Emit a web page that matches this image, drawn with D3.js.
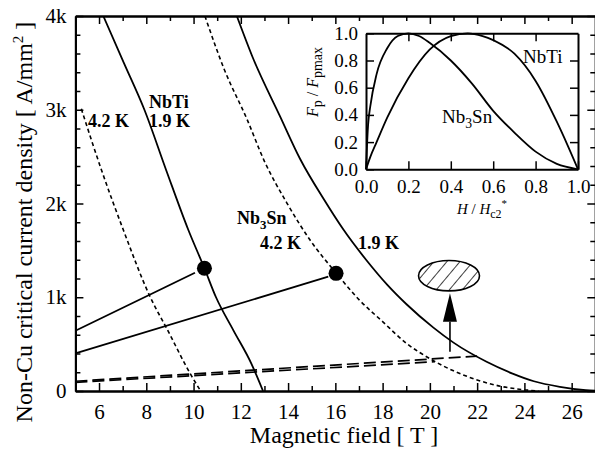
<!DOCTYPE html>
<html>
<head>
<meta charset="utf-8">
<script src="https://cdn.jsdelivr.net/npm/d3@7"></script>
<style>
  body { margin: 0; background: #fff; }
</style>
</head>
<body>
<svg id="chart" width="595" height="456"></svg>
<script>
// ---- data (field in T, Jc in A/mm2) ----
const nbti19B = [6.18, 7.05, 7.92, 8.85, 9.78, 10.46, 10.95, 11.68, 12.45, 12.94];
const nbti19J = [4000, 3500, 3000, 2350, 1717, 1309, 1000, 650, 290, 0];

const nbti42B = [5.25, 6.1, 7.03, 8.16, 8.9, 9.85, 10.3];
const nbti42J = [3010, 2360, 1717, 1006, 650, 189, 0];

const nb3sn42B = [10.48, 11.3, 12.26, 13.0, 13.95, 14.93, 16.06, 17.0, 18.0, 19.0, 20.0, 21.0, 22.0, 23.0, 24.0, 24.6];
const nb3sn42J = [4000, 3430, 2900, 2450, 2005, 1610, 1250, 975, 740, 510, 345, 215, 118, 50, 13, 0];

const nb3sn19B = [11.83, 12.5, 13.66, 14.51, 15.5, 16.34, 17.3, 18.2, 19.0, 20.15, 21.0, 22.4, 23.5, 24.4, 25.5, 26.6, 27.0];
const nb3sn19J = [4000, 3560, 2930, 2475, 2050, 1722, 1400, 1132, 928, 676, 516, 312, 186, 104, 45, 9, 3];

// load lines ending just before the operating points
const load1B = [5, 10.06], load1J = [643, 1262];
const load2B = [5, 15.70], load2J = [402, 1219];
const pointB = [10.46, 16.03], pointJ = [1309, 1255];

// long dashed lines
const dash1B = [5, 22.0], dash1J = [104, 372];
const dash2B = [5, 20.2], dash2J = [92, 312];

// arrow (tail, head base, tip) and hatched target ellipse
const arrowB = 20.85, arrowJ = [419, 739, 1042];
const ellipseB = 20.81, ellipseJ = 1230, ellipseRB = 1.29, ellipseRJ = 162;

// inset: normalised pinning force
const insetNbTiH = [0, 0.02, 0.05, 0.1, 0.2, 0.3, 0.4, 0.48, 0.55, 0.6, 0.7, 0.8, 0.9, 0.95, 1.0];
const insetNbTiF = [0, 0.09, 0.2, 0.38, 0.67, 0.88, 0.98, 1.0, 0.98, 0.95, 0.85, 0.65, 0.35, 0.18, 0];
const insetNb3SnH = [0, 0.01, 0.02, 0.05, 0.1, 0.15, 0.2, 0.25, 0.3, 0.4, 0.5, 0.6, 0.7, 0.8, 0.9, 1.0];
const insetNb3SnF = [0, 0.33, 0.46, 0.70, 0.89, 0.98, 1.0, 0.98, 0.93, 0.80, 0.63, 0.43, 0.27, 0.13, 0.04, 0];

const xMajor = [6, 8, 10, 12, 14, 16, 18, 20, 22, 24, 26];
const xMinor = [7, 9, 11, 13, 15, 17, 19, 21, 23, 25];
const yMajor = [0, 1000, 2000, 3000, 4000];
const yLabels = ['0', '1k', '2k', '3k', '4k'];
const yMinor = d3.range(200, 4000, 200).filter(v => v % 1000 != 0);
const insetTicks = [0, 0.2, 0.4, 0.6, 0.8, 1.0];
const insetInner = [0.2, 0.4, 0.6, 0.8];

const FONT = 'Liberation Serif';

// ---- setup ----
const svg = d3.select('#chart');
const x = d3.scaleLinear().domain([5, 27]).range([75.4, 595.3]);
const y = d3.scaleLinear().domain([0, 4000]).range([391, 16]);

const defs = svg.append('defs');
defs.append('clipPath').attr('id', 'plot')
  .append('rect')
  .attr('x', x(5)).attr('y', y(4000))
  .attr('width', x(27) - x(5)).attr('height', y(0) - y(4000));

defs.append('pattern')
  .attr('id', 'hatch')
  .attr('patternUnits', 'userSpaceOnUse')
  .attr('width', 10).attr('height', 10)
  .attr('patternTransform', 'rotate(40)')
  .append('line')
  .attr('x1', 0).attr('y1', 0).attr('x2', 0).attr('y2', 10)
  .attr('stroke', '#000').attr('stroke-width', 1.5);

const plot = svg.append('g').attr('clip-path', 'url(#plot)');

const line = d3.line().x(d => x(d[0])).y(d => y(d[1])).curve(d3.curveMonotoneX);
const straight = d3.line().x(d => x(d[0])).y(d => y(d[1]));

function curve(B, J, dash, width, gen) {
  plot.append('path')
    .datum(d3.zip(B, J))
    .attr('d', gen || line)
    .attr('fill', 'none')
    .attr('stroke', '#000')
    .attr('stroke-width', width)
    .attr('stroke-dasharray', dash);
}

curve(nbti19B, nbti19J, null, 1.8);
curve(nbti42B, nbti42J, '4,3', 1.6);
curve(nb3sn19B, nb3sn19J, null, 1.8);
curve(nb3sn42B, nb3sn42J, '4,3', 1.6);
curve(load1B, load1J, null, 1.8, straight);
curve(load2B, load2J, null, 1.8, straight);
curve(dash1B, dash1J, '12,5', 1.7, straight);
curve(dash2B, dash2J, '12,5', 1.7, straight);

// operating points
plot.selectAll('.pt')
  .data(d3.zip(pointB, pointJ))
  .enter()
  .append('circle')
  .attr('cx', d => x(d[0]))
  .attr('cy', d => y(d[1]))
  .attr('r', 7.5)
  .attr('fill', '#000');

// hatched ellipse
plot.append('ellipse')
  .attr('cx', x(ellipseB)).attr('cy', y(ellipseJ))
  .attr('rx', x(ellipseB + ellipseRB) - x(ellipseB))
  .attr('ry', y(ellipseJ - ellipseRJ) - y(ellipseJ))
  .attr('fill', 'url(#hatch)')
  .attr('stroke', '#000').attr('stroke-width', 1.6);

// arrow
plot.append('line')
  .attr('x1', x(arrowB)).attr('x2', x(arrowB))
  .attr('y1', y(arrowJ[0])).attr('y2', y(arrowJ[1]))
  .attr('stroke', '#000').attr('stroke-width', 1.6);
plot.append('path')
  .attr('d', `M${x(arrowB) - 7},${y(arrowJ[1])}L${x(arrowB) + 7},${y(arrowJ[1])}L${x(arrowB)},${y(arrowJ[2])}Z`)
  .attr('fill', '#000');

// ---- axes ----
function styleAxis(g, size) {
  g.attr('font-family', null).attr('font-size', null);
  g.select('.domain').attr('stroke-width', 2);
  g.selectAll('.tick line').attr('stroke-width', 1.5);
  g.selectAll('text').style('font-family', FONT).style('font-size', size + 'px');
}

svg.append('g').attr('transform', `translate(0,${y(0)})`)
  .call(d3.axisBottom(x).tickValues(xMajor).tickSize(-8).tickSizeOuter(0).tickPadding(13))
  .call(g => styleAxis(g, 21));
svg.append('g').attr('transform', `translate(0,${y(0)})`)
  .call(d3.axisBottom(x).tickValues(xMinor).tickSize(-5).tickSizeOuter(0).tickFormat(''))
  .call(g => styleAxis(g, 21));
svg.append('g').attr('transform', `translate(0,${y(4000)})`)
  .call(d3.axisTop(x).tickValues(xMajor).tickSize(-8).tickSizeOuter(0).tickFormat(''))
  .call(g => styleAxis(g, 21));
svg.append('g').attr('transform', `translate(0,${y(4000)})`)
  .call(d3.axisTop(x).tickValues(xMinor).tickSize(-5).tickSizeOuter(0).tickFormat(''))
  .call(g => styleAxis(g, 21));

svg.append('g').attr('transform', `translate(${x(5)},0)`)
  .call(d3.axisLeft(y).tickValues(yMajor).tickSize(-8).tickSizeOuter(0).tickPadding(9)
    .tickFormat((d, i) => yLabels[i]))
  .call(g => styleAxis(g, 21));
svg.append('g').attr('transform', `translate(${x(5)},0)`)
  .call(d3.axisLeft(y).tickValues(yMinor).tickSize(-5).tickSizeOuter(0).tickFormat(''))
  .call(g => styleAxis(g, 21));
svg.append('g').attr('transform', `translate(${x(27)},0)`)
  .call(d3.axisRight(y).tickValues(yMajor).tickSize(-8).tickSizeOuter(0).tickFormat(''))
  .call(g => styleAxis(g, 21));
svg.append('g').attr('transform', `translate(${x(27)},0)`)
  .call(d3.axisRight(y).tickValues(yMinor).tickSize(-5).tickSizeOuter(0).tickFormat(''))
  .call(g => styleAxis(g, 21));

// axis titles
svg.append('text')
  .attr('x', 344).attr('y', 443)
  .attr('text-anchor', 'middle')
  .style('font-family', FONT).style('font-size', '24px')
  .text('Magnetic field [ T ]');

const yt = svg.append('text')
  .attr('transform', 'translate(32,222) rotate(-90)')
  .attr('text-anchor', 'middle')
  .style('font-family', FONT).style('font-size', '24px');
yt.append('tspan').text('Non-Cu critical current density [ A/mm');
yt.append('tspan').attr('dy', -9).style('font-size', '15px').text('2');
yt.append('tspan').attr('dy', 9).text(' ]');

// curve labels
function label(px, py, parts, size, weight) {
  const t = svg.append('text').attr('x', px).attr('y', py)
    .style('font-family', FONT).style('font-size', size + 'px')
    .style('font-weight', weight);
  parts.forEach(p => {
    const s = t.append('tspan').text(p.t);
    if (p.sub) s.attr('dy', 5).style('font-size', size * 0.72 + 'px');
    if (p.back) s.attr('dy', -5);
  });
}
label(149, 108, [{ t: 'NbTi' }], 18, 'bold');
label(149, 127, [{ t: '1.9 K' }], 18, 'bold');
label(88, 127, [{ t: '4.2 K' }], 18, 'bold');
label(237, 224, [{ t: 'Nb' }, { t: '3', sub: true }, { t: 'Sn', back: true }], 18, 'bold');
label(260, 249, [{ t: '4.2 K' }], 18, 'bold');
label(358, 249, [{ t: '1.9 K' }], 18, 'bold');

// ---- inset ----
const ix = d3.scaleLinear().domain([0, 1]).range([366, 578]);
const iy = d3.scaleLinear().domain([0, 1]).range([169.3, 33.3]);

svg.append('rect')
  .attr('x', ix(0)).attr('y', iy(1))
  .attr('width', ix(1) - ix(0)).attr('height', iy(0) - iy(1))
  .attr('fill', '#fff');

const iline = d3.line().x(d => ix(d[0])).y(d => iy(d[1])).curve(d3.curveMonotoneX);
[[insetNbTiH, insetNbTiF], [insetNb3SnH, insetNb3SnF]].forEach(([h, f]) => {
  svg.append('path')
    .datum(d3.zip(h, f))
    .attr('d', iline)
    .attr('fill', 'none')
    .attr('stroke', '#000')
    .attr('stroke-width', 1.8);
});

svg.append('g').attr('transform', `translate(0,${iy(0)})`)
  .call(d3.axisBottom(ix).tickValues(insetTicks).tickSize(-8).tickSizeOuter(0).tickPadding(10)
    .tickFormat(d3.format('.1f')))
  .call(g => styleAxis(g, 19));
svg.append('g').attr('transform', `translate(${ix(0)},0)`)
  .call(d3.axisLeft(iy).tickValues(insetTicks).tickSize(-8).tickSizeOuter(0).tickPadding(8)
    .tickFormat(d3.format('.1f')))
  .call(g => styleAxis(g, 19));
svg.append('g').attr('transform', `translate(0,${iy(1)})`)
  .call(d3.axisTop(ix).tickValues(insetInner).tickSize(-8).tickSizeOuter(0).tickFormat(''))
  .call(g => styleAxis(g, 19));
svg.append('g').attr('transform', `translate(${ix(1)},0)`)
  .call(d3.axisRight(iy).tickValues(insetInner).tickSize(-8).tickSizeOuter(0).tickFormat(''))
  .call(g => styleAxis(g, 19));

label(523, 63, [{ t: 'NbTi' }], 19, 'normal');
label(442, 123, [{ t: 'Nb' }, { t: '3', sub: true }, { t: 'Sn', back: true }], 19, 'normal');

// inset axis titles
const ixt = svg.append('text').attr('x', 482).attr('y', 214)
  .attr('text-anchor', 'middle')
  .style('font-family', FONT).style('font-size', '15px');
ixt.append('tspan').style('font-style', 'italic').text('H');
ixt.append('tspan').text(' / ');
ixt.append('tspan').style('font-style', 'italic').text('H');
ixt.append('tspan').attr('dy', 4).style('font-size', '12px').text('c2');
ixt.append('tspan').attr('dy', -11).style('font-size', '11px').text('*');

const iyt = svg.append('text')
  .attr('transform', 'translate(318,82) rotate(-90)')
  .attr('text-anchor', 'middle')
  .style('font-family', FONT).style('font-size', '16px');
iyt.append('tspan').style('font-style', 'italic').text('F');
iyt.append('tspan').attr('dy', 4).style('font-size', '14px').text('p');
iyt.append('tspan').attr('dy', -4).text('  /  ');
iyt.append('tspan').style('font-style', 'italic').text('F');
iyt.append('tspan').attr('dy', 4).style('font-size', '14px').text('pmax');
</script>
</body>
</html>
